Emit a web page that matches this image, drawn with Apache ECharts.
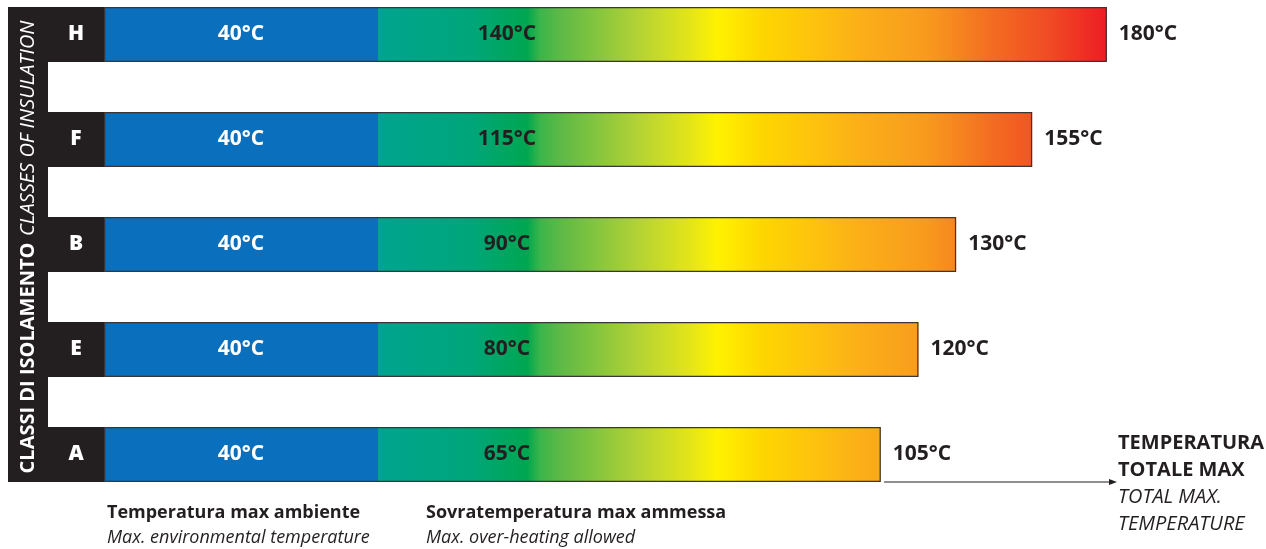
<!DOCTYPE html>
<html>
<head>
<meta charset="utf-8">
<script src="https://cdn.jsdelivr.net/npm/echarts@6/dist/echarts.min.js"></script>
<style>
  html, body { margin: 0; padding: 0; background: #fff; }
  #insulationChart { width: 1266px; height: 549px; }
</style>
</head>
<body>
<div id="insulationChart"></div>
<script>
// classi di isolamento, dall'alto verso il basso
var classes = ['H', 'F', 'B', 'E', 'A'];
var ambientTemp = [40, 40, 40, 40, 40];        // temperatura max ambiente
var overheatTemp = [140, 115, 90, 80, 65];     // sovratemperatura max ammessa
var totalMaxTemp = [180, 155, 130, 120, 105];  // temperatura totale max
// the picture is schematic: length of the coloured part as drawn, in units of the 40°C blue part
var overheatDrawn = [106.4, 95.5, 84.4, 78.9, 73.4];

var FONT = '"Open Sans", "Noto Sans", sans-serif';
var DARK = '#231f20';

var totalDrawn = ambientTemp.map(function (v, i) { return v + overheatDrawn[i]; });

var chart = echarts.init(document.getElementById('insulationChart'));

// sfumatura fissa sulla pagina (stessi colori alla stessa x per tutte le barre)
var heatGradient = new echarts.graphic.LinearGradient(378.5, 0, 1107, 0, [
    { offset: 0, color: '#00a48f' },
    { offset: 0.126, color: '#00a67a' },
    { offset: 0.204, color: '#00a650' },
    { offset: 0.222, color: '#3cb54a' },
    { offset: 0.249, color: '#5cb947' },
    { offset: 0.359, color: '#b5d334' },
    { offset: 0.432, color: '#e7e617' },
    { offset: 0.465, color: '#fff200' },
    { offset: 0.524, color: '#fdd700' },
    { offset: 0.592, color: '#fdc40d' },
    { offset: 0.661, color: '#fbaf18' },
    { offset: 0.753, color: '#f89a1e' },
    { offset: 0.843, color: '#f36c21' },
    { offset: 0.922, color: '#f04a24' },
    { offset: 1, color: '#ed1c24' }
], true);

chart.setOption({
    animation: false,
    grid: {
        left: 104,
        right: 66,
        top: 34.5,
        height: 420
    },
    xAxis: {
        type: 'value',
        min: 0,
        max: 160,
        show: false
    },
    yAxis: {
        type: 'category',
        data: classes,
        inverse: true,
        boundaryGap: false,
        axisLine: { show: false },
        axisTick: { show: false },
        splitLine: { show: false },
        axisLabel: {
            margin: 28,
            align: 'center',
            verticalAlign: 'middle',
            width: 56,
            height: 55,
            lineHeight: 55,
            backgroundColor: DARK,
            color: '#fff',
            fontSize: 21,
            fontWeight: 800,
            fontFamily: FONT
        }
    },
    series: [
        {
            name: 'Temperatura max ambiente',
            type: 'bar',
            stack: 'temp',
            barWidth: 55,
            data: ambientTemp,
            itemStyle: { color: '#0a6fbd' },
            label: {
                show: true,
                position: 'inside',
                formatter: function (p) { return ambientTemp[p.dataIndex] + '°C'; },
                color: '#fff',
                fontSize: 21,
                fontWeight: 'bold',
                fontFamily: FONT
            }
        },
        {
            name: 'Sovratemperatura max ammessa',
            type: 'bar',
            stack: 'temp',
            barWidth: 55,
            data: overheatDrawn,
            itemStyle: { color: heatGradient },
            label: {
                show: true,
                position: [129, '50%'],
                align: 'center',
                verticalAlign: 'middle',
                formatter: function (p) { return overheatTemp[p.dataIndex] + '°C'; },
                color: DARK,
                fontSize: 21,
                fontWeight: 'bold',
                fontFamily: FONT
            }
        },
        {
            // contorno della barra intera + etichetta della temperatura totale
            name: 'Temperatura totale max',
            type: 'bar',
            barWidth: 55,
            barGap: '-100%',
            z: 3,
            silent: true,
            data: totalDrawn,
            itemStyle: {
                color: 'rgba(0,0,0,0)',
                borderColor: '#3a3536',
                borderWidth: 1.2
            },
            label: {
                show: true,
                position: 'right',
                distance: 12,
                formatter: function (p) { return totalMaxTemp[p.dataIndex] + '°C'; },
                color: DARK,
                fontSize: 21,
                fontWeight: 'bold',
                fontFamily: FONT
            }
        }
    ],
    graphic: [
        {
            type: 'rect',
            shape: { x: 8, y: 7, width: 40, height: 475 },
            style: { fill: DARK },
            z: 10
        },
        {
            type: 'text',
            x: 28.5,
            y: 247,
            rotation: Math.PI / 2,
            z: 11,
            style: {
                text: '{b|CLASSI DI ISOLAMENTO}  {i|CLASSES OF INSULATION}',
                align: 'center',
                verticalAlign: 'middle',
                rich: {
                    b: { fill: '#fff', fontSize: 20, fontWeight: 'bold', fontFamily: FONT },
                    i: { fill: '#fff', fontSize: 20, fontStyle: 'italic', fontFamily: FONT }
                }
            }
        },
        {
            type: 'line',
            shape: { x1: 884, y1: 482, x2: 1112, y2: 482 },
            style: { stroke: DARK, lineWidth: 1.2 }
        },
        {
            type: 'polygon',
            shape: { points: [[1117, 482], [1109, 479], [1109, 485]] },
            style: { fill: DARK }
        },
        {
            type: 'text',
            x: 1118,
            y: 430,
            style: {
                text: '{b|TEMPERATURA}\n{b|TOTALE MAX}\n{i|TOTAL MAX.}\n{i|TEMPERATURE}',
                rich: {
                    b: { fill: DARK, fontSize: 20, fontWeight: 'bold', fontFamily: FONT, lineHeight: 27 },
                    i: { fill: DARK, fontSize: 20, fontStyle: 'italic', fontFamily: FONT, lineHeight: 27 }
                }
            }
        },
        {
            type: 'text',
            x: 107,
            y: 500,
            style: {
                text: '{b|Temperatura max ambiente}\n{i|Max. environmental temperature}',
                rich: {
                    b: { fill: DARK, fontSize: 18, fontWeight: 'bold', fontFamily: FONT, lineHeight: 25 },
                    i: { fill: DARK, fontSize: 18, fontStyle: 'italic', fontFamily: FONT, lineHeight: 25 }
                }
            }
        },
        {
            type: 'text',
            x: 426,
            y: 500,
            style: {
                text: '{b|Sovratemperatura max ammessa}\n{i|Max. over-heating allowed}',
                rich: {
                    b: { fill: DARK, fontSize: 18, fontWeight: 'bold', fontFamily: FONT, lineHeight: 25 },
                    i: { fill: DARK, fontSize: 18, fontStyle: 'italic', fontFamily: FONT, lineHeight: 25 }
                }
            }
        }
    ]
});

window.addEventListener('resize', function () {
    chart.resize();
});
</script>
</body>
</html>
